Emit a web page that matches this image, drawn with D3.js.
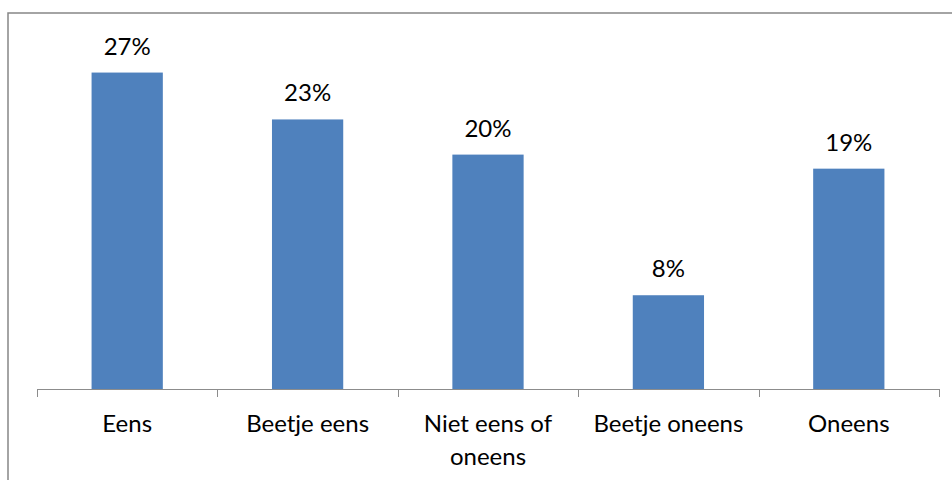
<html>
<head>
<meta charset="utf-8">
<script src="https://cdn.jsdelivr.net/npm/d3@7"></script>
<style>
body {
  margin: 0;
  background-color: #ffffff;
}
.chart text {
  font-family: Lato, "Open Sans", sans-serif;
  font-size: 24px;
  fill: #000000;
  text-anchor: middle;
}
.axis line, .axis path {
  stroke: #8c8c8c;
  shape-rendering: crispEdges;
}
</style>
</head>
<body>
<div class="target"></div>
<script>
var categories = ["Eens", "Beetje eens", "Niet eens of oneens", "Beetje oneens", "Oneens"];
var labelLines = [["Eens"], ["Beetje eens"], ["Niet eens of", "oneens"], ["Beetje oneens"], ["Oneens"]];
var values = [27, 23, 20, 8, 18.8];

var width = 952, height = 480;
var plot = {left: 37, right: 939, top: 37.4, bottom: 389};

var svg = d3.select(".target")
  .append("svg")
    .attr("class", "chart")
    .attr("width", width)
    .attr("height", height);

// outer frame (runs off the right and bottom of the picture)
svg.append("rect")
  .attr("x", 8)
  .attr("y", 13)
  .attr("width", width + 10)
  .attr("height", height + 10)
  .attr("fill", "#ffffff")
  .attr("stroke", "#868686")
  .attr("stroke-width", 1.5);

var x = d3.scaleBand()
  .domain(categories)
  .range([plot.left, plot.right])
  .padding(0);

var y = d3.scaleLinear()
  .domain([0, 30])
  .range([plot.bottom, plot.top]);

var fmt = d3.format(".0f");
var barWidth = x.bandwidth() * 0.395;

svg.selectAll(".bar")
  .data(values)
  .enter()
  .append("rect")
    .attr("class", "bar")
    .attr("x", function(d, i) { return x(categories[i]) + (x.bandwidth() - barWidth) / 2; })
    .attr("y", function(d) { return y(d); })
    .attr("width", barWidth)
    .attr("height", function(d) { return y(0) - y(d); })
    .attr("fill", "#4f81bd");

svg.selectAll(".value")
  .data(values)
  .enter()
  .append("text")
    .attr("class", "value")
    .attr("x", function(d, i) { return x(categories[i]) + x.bandwidth() / 2; })
    .attr("y", function(d) { return y(d) - 18; })
    .text(function(d) { return fmt(d) + "%"; });

// x axis: line plus ticks on the band edges
var axis = svg.append("g").attr("class", "axis");
axis.append("line")
  .attr("x1", plot.left)
  .attr("x2", plot.right)
  .attr("y1", plot.bottom + 0.5)
  .attr("y2", plot.bottom + 0.5);

var edges = categories.map(function(c) { return x(c); }).concat([plot.right]);
axis.selectAll(".tick")
  .data(edges)
  .enter()
  .append("line")
    .attr("x1", function(d) { return Math.round(d) + 0.5; })
    .attr("x2", function(d) { return Math.round(d) + 0.5; })
    .attr("y1", plot.bottom)
    .attr("y2", plot.bottom + 8);

var labels = svg.selectAll(".cat")
  .data(labelLines)
  .enter()
  .append("text")
    .attr("class", "cat")
    .attr("x", function(d, i) { return x(categories[i]) + x.bandwidth() / 2; })
    .attr("y", 432);

labels.selectAll("tspan")
  .data(function(d) { return d; })
  .enter()
  .append("tspan")
    .attr("x", function() { return d3.select(this.parentNode).attr("x"); })
    .attr("dy", function(d, i) { return i == 0 ? 0 : 33; })
    .text(function(d) { return d; });
</script>
</body>
</html>
